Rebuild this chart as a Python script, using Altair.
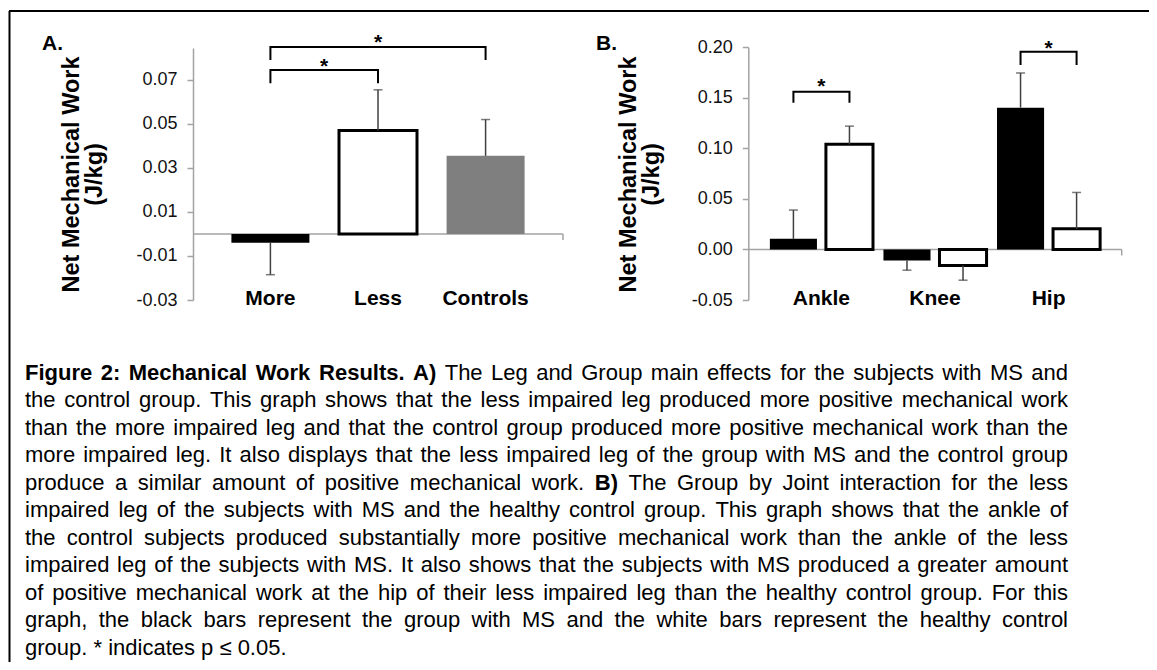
import altair as alt
import pandas as pd

# ---------------- data ----------------
a_categories = ["More", "Less", "Controls"]
a_means = [-0.004, 0.047, 0.0355]
a_sds = [0.0145, 0.0185, 0.0165]
a_ticks = [-0.03, -0.01, 0.01, 0.03, 0.05, 0.07]
a_domain = [-0.03, 0.0845]
a_sig_left = ["More", "More"]
a_sig_right = ["Less", "Controls"]
a_sig_low = [0.0685, 0.0791]
a_sig_high = [0.0745, 0.0849]
a_sig_star = [0.0783, 0.0892]

b_joints = ["Ankle", "Knee", "Hip"]
b_groups = ["MS", "Control"]
b_ms_means = [0.0105, -0.011, 0.1403]
b_ms_sds = [0.0285, 0.0095, 0.0343]
b_control_means = [0.104, -0.0158, 0.0205]
b_control_sds = [0.018, 0.0146, 0.0359]
b_ticks = [-0.05, 0.0, 0.05, 0.10, 0.15, 0.20]
b_domain = [-0.05, 0.20]
b_sig_joint = ["Ankle", "Hip"]
b_sig_low = [0.1452, 0.1825]
b_sig_high = [0.1561, 0.1957]
b_sig_star = [0.166, 0.203]

y_title = ["Net Mechanical Work", "(J/kg)"]
panel_letters = ["A.", "B."]
caption_lines = [
    "Figure 2: Mechanical Work Results. A) The Leg and Group main effects for the subjects with MS and",
    "the control group. This graph shows that the less impaired leg produced more positive mechanical work",
    "than the more impaired leg and that the control group produced more positive mechanical work than the",
    "more impaired leg. It also displays that the less impaired leg of the group with MS and the control group",
    "produce a similar amount of positive mechanical work. B) The Group by Joint interaction for the less",
    "impaired leg of the subjects with MS and the healthy control group. This graph shows that the ankle of",
    "the control subjects produced substantially more positive mechanical work than the ankle of the less",
    "impaired leg of the subjects with MS. It also shows that the subjects with MS produced a greater amount",
    "of positive mechanical work at the hip of their less impaired leg than the healthy control group. For this",
    "graph, the black bars represent the group with MS and the white bars represent the healthy control",
    "group. * indicates p \u2264 0.05.",
]
caption_bold = {0: [0, 1, 2, 3, 4, 5], 4: [8]}

# ---------------- styles / layout ----------------
FONT = "Liberation Sans"
a_fills = ["#000000", "#ffffff", "#7f7f7f"]
a_strokes = ["transparent", "#000000", "transparent"]
b_fills = ["#000000", "#ffffff"]
b_strokes = ["transparent", "#000000"]
AXIS_GRAY = "#a3a3a3"
ERR = "#404040"
STAR_SIZE = 21

M = 8
W, H = 1157 - 2 * M, 670 - 2 * M


def px(v):
    return v - M


A_X = (193.0, 563.0)
A_Y = (300.0, 48.0)
B_X = (748.3, 1121.7)
B_Y = (300.0, 47.3)
A_PAD = (0.275, 0.357)
B_PAD = (0.092, 0.19)
B_SUBPAD = 0.16
CAT_LABEL_TOP = 287
TITLE_CENTER_Y = 174
A_TITLE_X = 78
B_TITLE_X = 635
TITLE_SIZE = 23.5

CAP_SIZE = 22
CAP_X0, CAP_X1 = 25.0, 1068.0
CAP_Y0, CAP_DY = 380.0, 27.45

# Arial / Liberation Sans advance widths (per 1000 em)
REG = dict(zip("abcdefghijklmnopqrstuvwxyz",
               [556, 556, 500, 556, 556, 278, 556, 556, 222, 222, 500, 222, 833,
                556, 556, 556, 556, 333, 500, 278, 556, 500, 722, 500, 500, 500]))
REG.update(dict(zip("ABCDEFGHIJKLMNOPQRSTUVWXYZ",
                    [667, 667, 722, 722, 667, 611, 778, 722, 278, 500, 667, 556, 833,
                     722, 778, 667, 778, 722, 667, 611, 722, 667, 944, 667, 667, 611])))
REG.update({" ": 278, ".": 278, ",": 278, ":": 278, "*": 389, "(": 333, ")": 333,
            "-": 333, "\u2264": 549})
REG.update({d: 556 for d in "0123456789"})
BLD = dict(zip("abcdefghijklmnopqrstuvwxyz",
               [556, 611, 556, 611, 556, 333, 611, 611, 278, 278, 556, 278, 889,
                611, 611, 611, 611, 389, 556, 333, 611, 556, 778, 556, 556, 500]))
BLD.update(dict(zip("ABCDEFGHIJKLMNOPQRSTUVWXYZ",
                    [722, 722, 722, 722, 667, 611, 778, 722, 278, 556, 722, 611, 833,
                     722, 778, 667, 778, 722, 667, 611, 722, 667, 944, 667, 667, 611])))
BLD.update({" ": 278, ".": 278, ",": 278, ":": 333, "*": 389, "(": 333, ")": 333, "-": 333})
BLD.update({d: 556 for d in "0123456789"})


def text_w(s, bold):
    t = BLD if bold else REG
    return sum(t.get(c, 556) for c in s) * CAP_SIZE / 1000.0


def make_y_axis(axis_x, ticks, title_x):
    return alt.Axis(
        orient="left", offset=-px(axis_x), values=ticks,
        labelExpr="replace(format(datum.value, '.2f'), '\u2212', '-')",
        labelFont=FONT, labelFontSize=18, labelColor="#111111", labelPadding=10,
        labelOverlap=False, tickSize=6, tickColor=AXIS_GRAY, tickWidth=1.5,
        domainColor=AXIS_GRAY, domainWidth=1.5, grid=False,
        title=y_title, titleFont=FONT, titleFontSize=TITLE_SIZE, titleFontWeight="bold",
        titleColor="#000000", titleAngle=270, titleAlign="center",
        titleBaseline="alphabetic", titleLineHeight=23,
        titleX=title_x - axis_x, titleY=px(TITLE_CENTER_Y),
    )


def make_x_axis():
    return alt.Axis(
        orient="bottom", offset=px(CAT_LABEL_TOP) - H, domain=False, ticks=False,
        grid=False, labelPadding=0, labelBaseline="top", labelAngle=0, labelFont=FONT,
        labelFontSize=21, labelFontWeight="bold", labelColor="#000000", title=None,
        labelOverlap=False,
    )


# ---------------- panel A ----------------
dfA = pd.DataFrame({"cat": a_categories, "mean": a_means, "sd": a_sds})
dfA["end"] = [m + (s if m >= 0 else -s) for m, s in zip(a_means, a_sds)]
dfZ = pd.DataFrame({"zero": [0.0]})

xA_scale = alt.Scale(domain=a_categories, range=[px(A_X[0]), px(A_X[1])],
                     paddingInner=A_PAD[0], paddingOuter=A_PAD[1])
yA_scale = alt.Scale(domain=a_domain, range=[px(A_Y[0]), px(A_Y[1])], nice=False, zero=False)
xA_axis = make_x_axis()
yA_axis = make_y_axis(A_X[0], a_ticks, A_TITLE_X)


def xA():
    return alt.X("cat:N", scale=xA_scale, axis=xA_axis)


def yA(f):
    return alt.Y(f"{f}:Q", scale=yA_scale, axis=yA_axis)


zeroA = alt.Chart(dfZ).mark_rule(color=AXIS_GRAY, strokeWidth=1.5).encode(
    x=alt.value(px(A_X[0])), x2=alt.value(px(A_X[1])), y=yA("zero"))
endA = alt.Chart(dfZ).mark_rule(color=AXIS_GRAY, strokeWidth=1.5, y2Offset=6).encode(
    x=alt.value(px(A_X[1])), y=yA("zero"), y2=alt.Y2("zero"))
barsA = alt.Chart(dfA).mark_bar(strokeWidth=3).encode(
    x=xA(), y=yA("mean"),
    fill=alt.Fill("cat:N", scale=alt.Scale(domain=a_categories, range=a_fills), legend=None),
    stroke=alt.Stroke("cat:N", scale=alt.Scale(domain=a_categories, range=a_strokes), legend=None),
)
errA = alt.Chart(dfA).mark_rule(color=ERR, strokeWidth=1.5).encode(
    x=xA(), y=yA("mean"), y2=alt.Y2("end"))
capA = alt.Chart(dfA).mark_tick(orient="horizontal", size=9, thickness=1.5, color=ERR).encode(
    x=xA(), y=yA("end"))

rows = []
for i, (l, r, lo, hi) in enumerate(zip(a_sig_left, a_sig_right, a_sig_low, a_sig_high)):
    rows += [dict(id=i, cat=l, v=lo, o=0), dict(id=i, cat=l, v=hi, o=1),
             dict(id=i, cat=r, v=hi, o=2), dict(id=i, cat=r, v=lo, o=3)]
brA = alt.Chart(pd.DataFrame(rows)).mark_line(color="#000000", strokeWidth=2).encode(
    x=xA(), y=yA("v"), detail="id:N", order="o:Q")

stepA = (A_X[1] - A_X[0]) / (len(a_categories) - A_PAD[0] + 2 * A_PAD[1])
starsA = []
for l, r, s in zip(a_sig_left, a_sig_right, a_sig_star):
    m = (a_categories.index(l) + a_categories.index(r)) / 2
    k = int(m)
    dfs = pd.DataFrame({"cat": [a_categories[k]], "star": [s], "t": ["*"]})
    starsA.append(alt.Chart(dfs).mark_text(
        font=FONT, fontSize=STAR_SIZE, fontWeight="bold", baseline="middle", dy=5,
        dx=(m - k) * stepA).encode(x=xA(), y=yA("star"), text="t:N"))

panelA = alt.layer(zeroA, endA, barsA, errA, capA, brA, *starsA)

# ---------------- panel B ----------------
recs = []
for j, joint in enumerate(b_joints):
    recs.append(dict(joint=joint, group="MS", mean=b_ms_means[j], sd=b_ms_sds[j]))
    recs.append(dict(joint=joint, group="Control", mean=b_control_means[j], sd=b_control_sds[j]))
dfB = pd.DataFrame(recs)
dfB["end"] = [m + (s if m >= 0 else -s) for m, s in zip(dfB["mean"], dfB["sd"])]

xB_scale = alt.Scale(domain=b_joints, range=[px(B_X[0]), px(B_X[1])],
                     paddingInner=B_PAD[0], paddingOuter=B_PAD[1])
yB_scale = alt.Scale(domain=b_domain, range=[px(B_Y[0]), px(B_Y[1])], nice=False, zero=False)
xB_axis = make_x_axis()
yB_axis = make_y_axis(B_X[0], b_ticks, B_TITLE_X)
xoB_scale = alt.Scale(domain=b_groups, paddingInner=B_SUBPAD, paddingOuter=0)


def xB():
    return alt.X("joint:N", scale=xB_scale, axis=xB_axis)


def xoB():
    return alt.XOffset("group:N", scale=xoB_scale)


def yB(f):
    return alt.Y(f"{f}:Q", scale=yB_scale, axis=yB_axis)


zeroB = alt.Chart(dfZ).mark_rule(color=AXIS_GRAY, strokeWidth=1.5).encode(
    x=alt.value(px(B_X[0])), x2=alt.value(px(B_X[1])), y=yB("zero"))
endB = alt.Chart(dfZ).mark_rule(color=AXIS_GRAY, strokeWidth=1.5, y2Offset=6).encode(
    x=alt.value(px(B_X[1])), y=yB("zero"), y2=alt.Y2("zero"))
barsB = alt.Chart(dfB).mark_bar(strokeWidth=3).encode(
    x=xB(), xOffset=xoB(), y=yB("mean"),
    fill=alt.Fill("group:N", scale=alt.Scale(domain=b_groups, range=b_fills), legend=None),
    stroke=alt.Stroke("group:N", scale=alt.Scale(domain=b_groups, range=b_strokes), legend=None),
)
errB = alt.Chart(dfB).mark_rule(color=ERR, strokeWidth=1.5).encode(
    x=xB(), xOffset=xoB(), y=yB("mean"), y2=alt.Y2("end"))
capB = alt.Chart(dfB).mark_tick(orient="horizontal", size=9, thickness=1.5, color=ERR).encode(
    x=xB(), xOffset=xoB(), y=yB("end"))

rows = []
for i, (jn, lo, hi) in enumerate(zip(b_sig_joint, b_sig_low, b_sig_high)):
    rows += [dict(id=i, joint=jn, group=b_groups[0], v=lo, o=0),
             dict(id=i, joint=jn, group=b_groups[0], v=hi, o=1),
             dict(id=i, joint=jn, group=b_groups[1], v=hi, o=2),
             dict(id=i, joint=jn, group=b_groups[1], v=lo, o=3)]
brB = alt.Chart(pd.DataFrame(rows)).mark_line(color="#000000", strokeWidth=2).encode(
    x=xB(), xOffset=xoB(), y=yB("v"), detail="id:N", order="o:Q")
starsB = alt.Chart(pd.DataFrame({"joint": b_sig_joint, "star": b_sig_star, "t": ["*"] * 2})).mark_text(
    font=FONT, fontSize=STAR_SIZE, fontWeight="bold", baseline="middle", dy=5).encode(
    x=xB(), y=yB("star"), text="t:N")

panelB = alt.layer(zeroB, endB, barsB, errB, capB, brB, starsB)

# ---------------- caption (justified) ----------------
words = []
for li, line in enumerate(caption_lines):
    toks = line.split(" ")
    bold_idx = caption_bold.get(li, [])
    flags = [k in bold_idx for k in range(len(toks))]
    widths = [text_w(t, b) for t, b in zip(toks, flags)]
    if li < len(caption_lines) - 1 and len(toks) > 1:
        gap = (CAP_X1 - CAP_X0 - sum(widths)) / (len(toks) - 1)
    else:
        gap = REG[" "] * CAP_SIZE / 1000.0
    x = CAP_X0
    for t, b, w in zip(toks, flags, widths):
        words.append(dict(t=t, bold=b, x=px(x), y=px(CAP_Y0 + li * CAP_DY)))
        x += w + gap
dfW = pd.DataFrame(words)

cap_layers = []
for is_bold in (False, True):
    sub = dfW[dfW["bold"] == is_bold][["t", "x", "y"]]
    cap_layers.append(alt.Chart(sub).mark_text(
        font=FONT, fontSize=CAP_SIZE, fontWeight="bold" if is_bold else "normal",
        align="left", baseline="alphabetic", color="#000000").encode(
        x=alt.X("x:Q", scale=None, axis=None), y=alt.Y("y:Q", scale=None, axis=None),
        text="t:N"))

# ---------------- panel letters & frame ----------------
dfL = pd.DataFrame({"t": panel_letters, "x": [px(42), px(596)], "y": [px(50), px(50)]})
letters = alt.Chart(dfL).mark_text(font=FONT, fontSize=21, fontWeight="bold", align="left",
                                   baseline="alphabetic", color="#000000").encode(
    x=alt.X("x:Q", scale=None, axis=None), y=alt.Y("y:Q", scale=None, axis=None), text="t:N")

dfF = pd.DataFrame({"k": [0]})
frame_top = alt.Chart(dfF).mark_rule(color="#000000", strokeWidth=2).encode(
    x=alt.value(px(9)), x2=alt.value(W), y=alt.value(px(11)))
frame_left = alt.Chart(dfF).mark_rule(color="#000000", strokeWidth=2).encode(
    x=alt.value(px(9.5)), y=alt.value(px(11)), y2=alt.value(H))

chart = alt.layer(panelA, panelB, *cap_layers, letters, frame_top, frame_left).resolve_scale(
    x="independent", y="independent", fill="independent", stroke="independent"
).properties(
    width=W, height=H, autosize=alt.AutoSizeParams(type="none"), padding=0
).configure(font=FONT).configure_view(stroke=None)

chart.save("out.html", embed_options={"renderer": "svg", "actions": False})
